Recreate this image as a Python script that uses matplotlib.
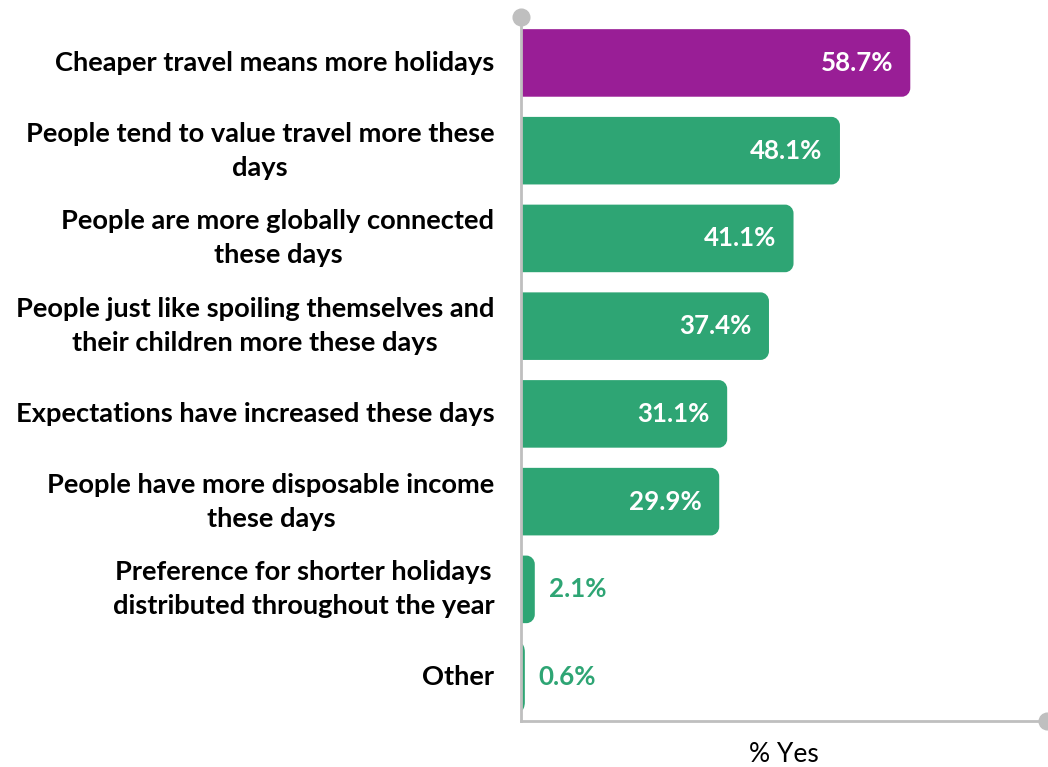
import matplotlib
matplotlib.use("Agg")
from matplotlib import pyplot as plt
from matplotlib.path import Path
from matplotlib.patches import PathPatch

plt.rcParams['font.family'] = ['Lato', 'DejaVu Sans']

categories = ['Cheaper travel means more holidays',
              'People tend to value travel more these\ndays',
              'People are more globally connected\nthese days',
              'People just like spoiling themselves and\ntheir children more these days',
              'Expectations have increased these days',
              'People have more disposable income\nthese days',
              'Preference for shorter holidays\ndistributed throughout the year',
              'Other']
values = [58.7, 48.1, 41.1, 37.4, 31.1, 29.9, 2.1, 0.6]

purple = '#991E96'
green = '#2EA574'
grey = '#BFBFBF'
colors = [purple] + [green] * (len(values) - 1)

fig = plt.figure(figsize=(10.48, 7.67), dpi=100)
ax = fig.add_axes([0.497, 0.060, 0.502, 0.918])

ypos = list(range(len(values)))
bars = ax.barh(ypos, values, height=0.77, color=colors)
xmax = 79.3
ytop, ybot = -0.525, 7.5
ax.set_xlim(0, xmax)
ax.set_ylim(ybot, ytop)


def rounded_right(x0, y0, w, h, rx, ry):
    # rectangle with the two right corners rounded (data units)
    rx = min(rx, w)
    k = 0.5523
    y1 = y0 + h
    x1 = x0 + w
    verts = [(x0, y0), (x1 - rx, y0),
             (x1 - rx + k * rx, y0), (x1, y0 + ry - k * ry), (x1, y0 + ry),
             (x1, y1 - ry),
             (x1, y1 - ry + k * ry), (x1 - rx + k * rx, y1), (x1 - rx, y1),
             (x0, y1), (x0, y0)]
    codes = [Path.MOVETO, Path.LINETO,
             Path.CURVE4, Path.CURVE4, Path.CURVE4,
             Path.LINETO,
             Path.CURVE4, Path.CURVE4, Path.CURVE4,
             Path.LINETO, Path.CLOSEPOLY]
    return Path(verts, codes)


for b, c in zip(bars, colors):
    b.set_visible(False)
    p = rounded_right(b.get_x(), b.get_y(), b.get_width(), b.get_height(), 1.25, 0.1)
    ax.add_patch(PathPatch(p, facecolor=c, edgecolor='none', zorder=2))

for y, v in zip(ypos, values):
    if v > 10:
        ax.text(v - 2.6, y, f'{v:.1f}%', ha='right', va='center', color='white',
                fontsize=18.6, fontweight='bold', zorder=3)
    else:
        ax.text(v + 2.1, y, f'{v:.1f}%', ha='left', va='center', color=green,
                fontsize=18.6, fontweight='bold', zorder=3)

ax.set_yticks(ypos)
ax.set_yticklabels(categories, fontsize=19.6, fontweight='bold',
                   multialignment='center', linespacing=1.5, va='center')
ax.tick_params(axis='y', length=0, pad=19)
ax.set_xticks([])

for s in ['top', 'right']:
    ax.spines[s].set_visible(False)
for s in ['left', 'bottom']:
    ax.spines[s].set_color(grey)
    ax.spines[s].set_linewidth(2)

# dots on axis ends
ax.plot([0], [ytop], 'o', color=grey, ms=12, clip_on=False, zorder=5)
ax.plot([xmax], [ybot], 'o', color=grey, ms=12, clip_on=False, zorder=5)

ax.set_xlabel('% Yes', fontsize=19, labelpad=15)

plt.savefig('out.png', dpi=100)
